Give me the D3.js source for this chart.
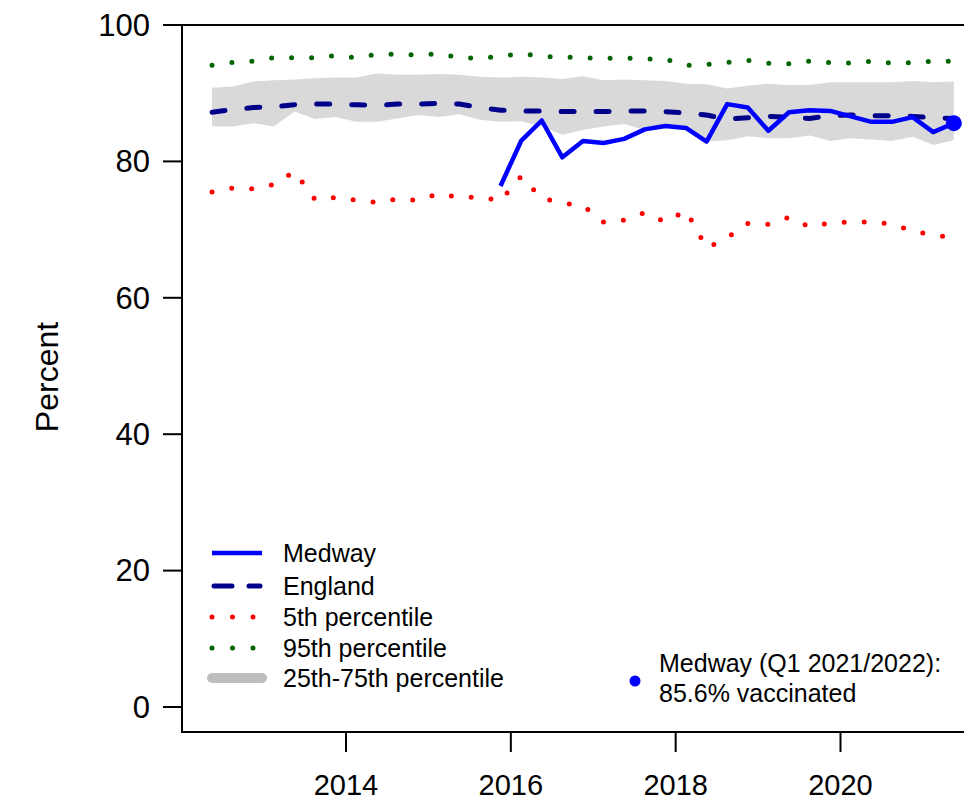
<!DOCTYPE html>
<html>
<head>
<meta charset="utf-8">
<script src="https://cdn.jsdelivr.net/npm/d3@7"></script>
<style>
  body { margin: 0; background: #fff; }
  svg text { font-family: "Liberation Sans", Arial, sans-serif; fill: #000; }
</style>
</head>
<body>
<div id="chart"></div>
<script>
// Financial quarters, Q1 2012/2013 .. Q1 2021/2022
const quarters = [
    "Q1 2012/2013", "Q2 2012/2013", "Q3 2012/2013", "Q4 2012/2013",
    "Q1 2013/2014", "Q2 2013/2014", "Q3 2013/2014", "Q4 2013/2014",
    "Q1 2014/2015", "Q2 2014/2015", "Q3 2014/2015", "Q4 2014/2015",
    "Q1 2015/2016", "Q2 2015/2016", "Q3 2015/2016", "Q4 2015/2016",
    "Q1 2016/2017", "Q2 2016/2017", "Q3 2016/2017", "Q4 2016/2017",
    "Q1 2017/2018", "Q2 2017/2018", "Q3 2017/2018", "Q4 2017/2018",
    "Q1 2018/2019", "Q2 2018/2019", "Q3 2018/2019", "Q4 2018/2019",
    "Q1 2019/2020", "Q2 2019/2020", "Q3 2019/2020", "Q4 2019/2020",
    "Q1 2020/2021", "Q2 2020/2021", "Q3 2020/2021", "Q4 2020/2021",
    "Q1 2021/2022"
];

// Medway (no data before Q3 2015/2016)
const medway = [
    null, null, null, null, null, null, null, null, null, null, null, null, null, null,
    76.4, 83.0, 86.0, 80.6, 83.0, 82.7, 83.3, 84.7, 85.2, 84.9, 82.9, 88.4,
    87.9, 84.5, 87.2, 87.5, 87.4, 86.6, 85.8, 85.8, 86.5, 84.3, 85.6
];

const england = [
    87.2, 87.6, 87.9, 88.0, 88.3, 88.4, 88.4, 88.3, 88.2, 88.4, 88.4, 88.5,
    88.4, 87.9, 87.5, 87.4, 87.4, 87.3, 87.3, 87.3, 87.4, 87.4, 87.3, 87.1,
    86.8, 86.2, 86.4, 86.6, 86.5, 86.3, 86.7, 86.8, 86.7, 86.7, 86.6, 86.4, 86.3
];

const p5 = [
    75.5, 76.1, 76.0, 76.6, 78.5, 74.4, 74.7, 74.3, 74.0, 74.5, 74.3, 75.3,
    74.7, 74.8, 74.2, 77.8, 74.6, 73.9, 73.5, 71.1, 71.4, 72.5, 71.1, 72.8,
    67.3, 68.8, 70.9, 70.8, 71.8, 70.4, 71.0, 71.1, 71.1, 70.8, 69.8, 69.2, 68.8
];

const p95 = [
    94.1, 94.5, 94.7, 95.2, 95.2, 95.2, 95.5, 95.2, 95.7, 95.7, 95.6, 95.8,
    95.2, 95.1, 95.4, 95.8, 95.4, 95.3, 95.2, 95.1, 95.2, 95.0, 95.0, 94.1,
    94.2, 94.5, 94.8, 94.4, 94.3, 94.7, 94.5, 94.4, 94.7, 94.4, 94.5, 94.7, 94.7
];

const p25 = [
    85.1, 85.1, 85.6, 85.1, 87.3, 86.2, 86.5, 85.8, 85.8, 86.3, 86.8, 86.5,
    86.9, 86.1, 85.8, 85.9, 85.1, 83.9, 84.6, 85.1, 85.5, 84.6, 84.9, 84.6,
    82.9, 83.1, 83.7, 83.4, 83.4, 83.8, 83.0, 83.4, 83.2, 83.0, 83.6, 82.4, 83.1
];

const p75 = [
    90.8, 91.0, 91.7, 91.9, 92.0, 92.2, 92.3, 92.3, 92.9, 92.7, 92.7, 92.8,
    92.7, 92.4, 92.3, 92.4, 92.3, 92.1, 92.5, 91.9, 92.0, 91.9, 91.8, 91.4,
    91.3, 90.7, 91.1, 91.4, 91.2, 91.2, 91.6, 91.6, 91.6, 91.6, 91.8, 91.6, 91.7
];

const yTicks = [0, 20, 40, 60, 80, 100];
const xTicks = [2014, 2016, 2018, 2020];

const legendItems = ["Medway", "England", "5th percentile", "95th percentile", "25th-75th percentile"];
const noteLines = ["Medway (Q1 2021/2022):", "85.6% vaccinated"];

// Quarter label -> decimal year (middle of the quarter)
function quarterTime(label) {
    const q = +label[1];
    const startYear = +label.slice(3, 7);
    return startYear + 0.125 + 0.25 * q;
}

const rows = quarters.map((q, i) => ({
    t: quarterTime(q),
    medway: medway[i],
    england: england[i],
    p5: p5[i],
    p95: p95[i],
    p25: p25[i],
    p75: p75[i]
}));

const width = 964;
const height = 804;

const x = d3.scaleLinear().domain([2014, 2020]).range([346, 840.5]);
const y = d3.scaleLinear().domain([0, 100]).range([707, 25]);

const boxLeft = 182, boxTop = 25, boxBottom = 732, boxRight = 990;

const svg = d3.select("#chart")
    .append("svg")
    .attr("width", width)
    .attr("height", height);

// Interquartile band
const band = d3.area()
    .x(d => x(d.t))
    .y0(d => y(d.p25))
    .y1(d => y(d.p75));

svg.append("path")
    .datum(rows)
    .attr("d", band)
    .attr("fill", "#d9d9d9");

const lineOf = key => d3.line()
    .defined(d => d[key] != null)
    .x(d => x(d.t))
    .y(d => y(d[key]));

// 5th and 95th percentile, dotted
svg.append("path")
    .datum(rows)
    .attr("d", lineOf("p5"))
    .attr("fill", "none")
    .attr("stroke", "#ff0000")
    .attr("stroke-width", 5)
    .attr("stroke-linecap", "round")
    .attr("stroke-dasharray", "0,20");

svg.append("path")
    .datum(rows)
    .attr("d", lineOf("p95"))
    .attr("fill", "none")
    .attr("stroke", "#006400")
    .attr("stroke-width", 5)
    .attr("stroke-linecap", "round")
    .attr("stroke-dasharray", "0,20");

// England, dashed
svg.append("path")
    .datum(rows)
    .attr("d", lineOf("england"))
    .attr("fill", "none")
    .attr("stroke", "#00008b")
    .attr("stroke-width", 5)
    .attr("stroke-linecap", "round")
    .attr("stroke-dasharray", "13,22");

// Medway, solid
svg.append("path")
    .datum(rows)
    .attr("d", lineOf("medway"))
    .attr("fill", "none")
    .attr("stroke", "#0000ff")
    .attr("stroke-width", 4.5)
    .attr("stroke-linejoin", "round");

const last = rows[rows.length - 1];
svg.append("circle")
    .attr("cx", x(last.t))
    .attr("cy", y(last.medway))
    .attr("r", 8)
    .attr("fill", "#0000ff");

// Box (left, top, bottom)
svg.append("path")
    .attr("d", `M${boxRight},${boxTop}H${boxLeft}V${boxBottom}H${boxRight}`)
    .attr("fill", "none")
    .attr("stroke", "#000")
    .attr("stroke-width", 2);

// Y axis
const yAxis = svg.append("g");
yAxis.selectAll("line")
    .data(yTicks)
    .join("line")
    .attr("x1", boxLeft - 19)
    .attr("x2", boxLeft)
    .attr("y1", d => y(d))
    .attr("y2", d => y(d))
    .attr("stroke", "#000")
    .attr("stroke-width", 2);

yAxis.selectAll("text")
    .data(yTicks)
    .join("text")
    .attr("x", 150)
    .attr("y", d => y(d))
    .attr("dy", "0.35em")
    .attr("text-anchor", "end")
    .style("font-size", "31px")
    .text(d => d);

svg.append("text")
    .attr("transform", `translate(58, ${(y(0) + y(100)) / 2 + 11}) rotate(-90)`)
    .attr("text-anchor", "middle")
    .style("font-size", "32px")
    .text("Percent");

// X axis
const xAxis = svg.append("g");
xAxis.selectAll("line")
    .data(xTicks)
    .join("line")
    .attr("x1", d => x(d))
    .attr("x2", d => x(d))
    .attr("y1", boxBottom)
    .attr("y2", boxBottom + 20)
    .attr("stroke", "#000")
    .attr("stroke-width", 2);

xAxis.selectAll("text")
    .data(xTicks)
    .join("text")
    .attr("x", d => x(d))
    .attr("y", 795)
    .attr("text-anchor", "middle")
    .style("font-size", "29px")
    .text(d => d);

// Legend
const legend = svg.append("g");
const rowY = [553, 586, 617, 648, 678];
const sampleX1 = 212, sampleX2 = 262;

const samples = [
    { stroke: "#0000ff", width: 4.5, dash: null, cap: "butt" },
    { stroke: "#00008b", width: 5, dash: "18,17", cap: "round" },
    { stroke: "#ff0000", width: 5, dash: "0,20.5", cap: "round" },
    { stroke: "#006400", width: 5, dash: "0,20.5", cap: "round" },
    { stroke: "#bebebe", width: 10, dash: null, cap: "round" }
];

legendItems.forEach((label, i) => {
    const s = samples[i];
    const ln = legend.append("line")
        .attr("x1", sampleX1)
        .attr("x2", sampleX2)
        .attr("y1", rowY[i])
        .attr("y2", rowY[i])
        .attr("stroke", s.stroke)
        .attr("stroke-width", s.width)
        .attr("stroke-linecap", s.cap);
    if (s.dash) ln.attr("stroke-dasharray", s.dash);
    if (i === 1) ln.attr("x1", sampleX1 + 2).attr("x2", sampleX2 - 2);

    legend.append("text")
        .attr("x", 283)
        .attr("y", rowY[i])
        .attr("dy", "0.35em")
        .style("font-size", "25px")
        .text(label);
});

// Latest value note
svg.append("circle")
    .attr("cx", 635)
    .attr("cy", 681)
    .attr("r", 5.5)
    .attr("fill", "#0000ff");

svg.selectAll(".note")
    .data(noteLines)
    .join("text")
    .attr("class", "note")
    .attr("x", 659)
    .attr("y", (d, i) => 663 + i * 30)
    .attr("dy", "0.35em")
    .style("font-size", "25px")
    .text(d => d);
</script>
</body>
</html>
